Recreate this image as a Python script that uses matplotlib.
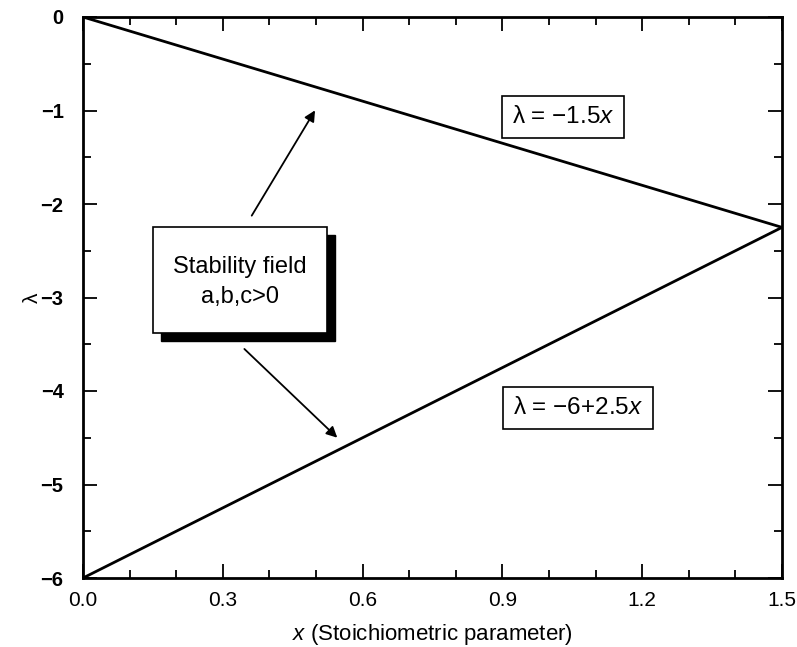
import matplotlib.pyplot as plt
from matplotlib.patches import Rectangle
from matplotlib.ticker import MultipleLocator

plt.rcParams["font.family"] = ["Liberation Sans", "DejaVu Sans"]
plt.rcParams["mathtext.fontset"] = "custom"
plt.rcParams["mathtext.it"] = "Liberation Sans:italic"

# boundary lines of the stability field
x_upper = [0.0, 1.5]
lam_upper = [0.0, -2.25]
x_lower = [0.0, 1.5]
lam_lower = [-6.0, -2.25]

x_ticks = [0.0, 0.3, 0.6, 0.9, 1.2, 1.5]
y_ticks = [0, -1, -2, -3, -4, -5, -6]

fig = plt.figure(figsize=(7.97, 6.47), dpi=100)
ax = fig.add_axes([83 / 797, 1 - 578 / 647, (782 - 83) / 797, (578 - 17) / 647])

ax.plot(x_upper, lam_upper, color="black", lw=2.0)
ax.plot(x_lower, lam_lower, color="black", lw=2.0)

ax.set_xlim(0, 1.5)
ax.set_ylim(-6, 0)
ax.xaxis.set_minor_locator(MultipleLocator(0.1))
ax.yaxis.set_minor_locator(MultipleLocator(0.5))
ax.tick_params(which="both", direction="in", top=True, right=True, width=1.3)
ax.tick_params(axis="x", which="major", length=10, pad=9, labelsize=15)
ax.tick_params(axis="y", which="major", length=10, pad=14, labelsize=14.5)
ax.tick_params(which="minor", length=6)
ax.set_xticks(x_ticks)
ax.set_xticklabels([f"{v:.1f}" for v in x_ticks])
ax.set_yticks(y_ticks)
ax.set_yticklabels([str(v).replace("-", "\u2212") for v in y_ticks])
for lbl in ax.get_yticklabels():
    lbl.set_fontweight("bold")
for s in ax.spines.values():
    s.set_linewidth(2.0)

ax.set_xlabel(r"$\it{x}$ (Stoichiometric parameter)", fontsize=16, labelpad=9)
ax.set_ylabel("λ", fontsize=15)
ax.yaxis.set_label_coords(-0.059, 0.5)

# stability field box with drop shadow
bx0, bx1 = 0.150, 0.524
by0, by1 = -3.38, -2.246
dx, dy = 0.017, -0.085
ax.add_patch(Rectangle((bx0 + dx, by0 + dy), bx1 - bx0, by1 - by0,
                       facecolor="black", edgecolor="black", zorder=3))
ax.add_patch(Rectangle((bx0, by0), bx1 - bx0, by1 - by0,
                       facecolor="white", edgecolor="black", lw=1.2, zorder=4))
ax.text((bx0 + bx1) / 2, (by0 + by1) / 2 - 0.02, "Stability field\na,b,c>0",
        ha="center", va="center", fontsize=17, linespacing=1.45, zorder=5)

arrow = dict(arrowstyle="-|>", color="black", lw=1.3, mutation_scale=16)
ax.annotate("", xy=(0.501, -0.973), xytext=(0.359, -2.15), arrowprops=arrow)
ax.annotate("", xy=(0.550, -4.52), xytext=(0.342, -3.53), arrowprops=arrow)

box = dict(boxstyle="square,pad=0.42", facecolor="white", edgecolor="black", lw=1.2)
ax.text(1.030, -1.07, "λ = \u22121.5$\\it{x}$", ha="center", va="center",
        fontsize=17.5, bbox=box)
ax.text(1.062, -4.18, "λ = \u22126+2.5$\\it{x}$", ha="center", va="center",
        fontsize=17.5, bbox=box)

fig.savefig("out.png", dpi=100)
